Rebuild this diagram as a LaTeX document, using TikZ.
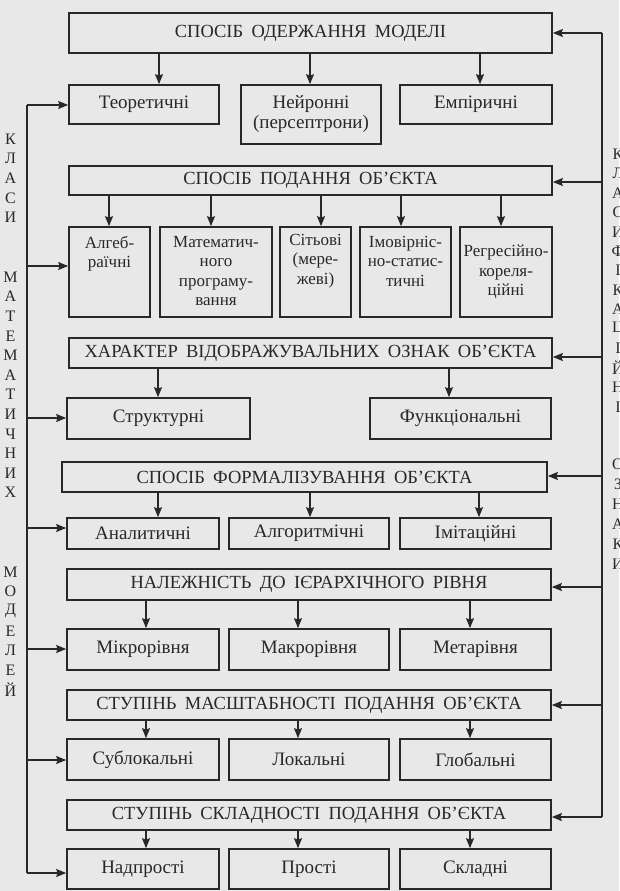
\documentclass[tikz,border=0pt]{standalone}
\usepackage{fontspec}
\setmainfont{Liberation Serif}
\newfontfamily\hdfont[WordSpace=1.8]{Liberation Serif}
\usetikzlibrary{arrows.meta}
\definecolor{bgc}{RGB}{232,232,232}
\definecolor{ink}{RGB}{40,40,40}
\newcommand\mkbox[7][bx]{\node[#1, minimum width={(#5)-(#3)}, minimum height={(#6)-(#4)}] (#2) at ({((#3)+(#5))/2},{((#4)+(#6))/2}) {#7};}
\newcommand\toptxt[4][9]{\parbox[c][#2pt][t]{#3pt}{\centering\fontsize{17}{19.5}\selectfont\vspace*{#1pt}#4\par}}
\begin{document}
\begin{tikzpicture}[x=1pt,y=-1pt,
  bx/.style={draw=ink, text=ink, line width=1.7pt, inner sep=0pt, align=center,
    font=\fontsize{19}{20}\selectfont},
  hd/.style={bx, font=\hdfont\fontsize{18.5}{20}\selectfont},
  arr/.style={draw=ink, line width=1.4pt, -{Stealth[length=10pt,width=8pt,inset=1.5pt]}},
  ln/.style={draw=ink, line width=1.4pt},
  lt/.style={text=ink, font=\fontsize{16}{16}\selectfont, inner sep=0pt}]
\fill[bgc] (0,0) rectangle (619,891);
\useasboundingbox (0,0) rectangle (619,891);

% level 1
\mkbox[hd]{H1}{69}{13}{552}{53}{СПОСІБ ОДЕРЖАННЯ МОДЕЛІ}
\mkbox{t1}{69}{85}{219}{124}{Теоретичні}
\mkbox{n1}{241}{85}{381}{144}{Нейронні\\(персептрони)}
\mkbox{e1}{400}{85}{552}{124}{Емпіричні}
% level 2
\mkbox[hd]{H2}{69}{166}{552}{195}{СПОСІБ ПОДАННЯ ОБ’ЄКТА}
\mkbox{a2}{69}{227}{150}{317}{\toptxt{90}{81}{Алгеб-\\раїчні}}
\mkbox{m2}{160}{227}{272}{317}{\toptxt{90}{112}{Математич-\\ного\\програму-\\вання}}
\mkbox{s2}{280}{227}{351}{317}{\toptxt[7]{90}{71}{Сітьові\\(мере-\\жеві)}}
\mkbox{i2}{360}{227}{451}{317}{\toptxt{90}{91}{Імовірніс-\\но-статис-\\тичні}}
\mkbox{r2}{460}{227}{552}{317}{\toptxt[18]{90}{92}{Регресійно-\\кореля-\\ційні}}
% level 3
\mkbox[hd]{H3}{69}{338}{552}{368}{ХАРАКТЕР ВІДОБРАЖУВАЛЬНИХ ОЗНАК ОБ’ЄКТА}
\mkbox{st}{67}{398}{250}{439}{Структурні}
\mkbox{fu}{370}{398}{551}{439}{Функціональні}
% level 4
\mkbox[hd]{H4}{62}{462}{547}{492}{СПОСІБ ФОРМАЛІЗУВАННЯ ОБ’ЄКТА}
\mkbox{an}{67}{518}{219}{549}{Аналитичні}
\mkbox{al}{229}{518}{389}{549}{Алгоритмічні}
\mkbox{im}{400}{518}{551}{549}{Імітаційні}
% level 5
\mkbox[hd]{H5}{67}{569}{551}{600}{НАЛЕЖНІСТЬ ДО ІЄРАРХІЧНОГО РІВНЯ}
\mkbox{mi}{67}{629}{219}{670}{Мікрорівня}
\mkbox{ma}{229}{629}{389}{670}{Макрорівня}
\mkbox{me}{400}{629}{551}{670}{Метарівня}
% level 6
\mkbox[hd]{H6}{67}{690}{551}{720}{СТУПІНЬ МАСШТАБНОСТІ ПОДАННЯ ОБ’ЄКТА}
\mkbox{sb}{67}{739}{219}{780}{Сублокальні}
\mkbox{lo}{229}{739}{389}{780}{Локальні}
\mkbox{gl}{400}{739}{551}{780}{Глобальні}
% level 7
\mkbox[hd]{H7}{67}{800}{551}{830}{СТУПІНЬ СКЛАДНОСТІ ПОДАННЯ ОБ’ЄКТА}
\mkbox{np}{67}{849}{219}{889}{Надпрості}
\mkbox{pr}{229}{849}{389}{889}{Прості}
\mkbox{sk}{400}{849}{551}{889}{Складні}

% down arrows
\foreach \x/\h/\c in {159/H1/t1, 310/H1/n1, 480/H1/e1,
  109/H2/a2, 211/H2/m2, 321/H2/s2, 401/H2/i2, 501/H2/r2,
  158/H3/st, 449/H3/fu,
  158/H4/an, 310/H4/al, 479/H4/im,
  146/H5/mi, 298/H5/ma, 470/H5/me,
  146/H6/sb, 298/H6/lo, 470/H6/gl,
  146/H7/np, 298/H7/pr, 470/H7/sk}{
  \coordinate (dx) at (\x,0);
  \draw[arr] (dx |- \h.south) -- (dx |- \c.north);
}

% left bus
\foreach \n/\y in {1/105, 2/266, 3/418, 4/528, 5/649, 6/760, 7/873}{
  \coordinate (L\n) at (27,\y);
}
\draw[ln] (L1) -- (L7);
\foreach \n/\b in {1/t1, 2/a2, 3/st, 4/an, 5/mi, 6/sb, 7/np}{
  \draw[arr] (L\n) -- (\b.west |- L\n);
}

% right bus
\foreach \n/\y in {1/33, 2/182, 3/357, 4/476, 5/587, 6/705, 7/817}{
  \coordinate (R\n) at (602,\y);
}
\draw[ln] (R1) -- (R7);
\foreach \n in {1,...,7}{
  \draw[arr] (R\n) -- (H\n.east |- R\n);
}

% left vertical label
\foreach \ch [count=\i from 0] in {К,Л,А,С,И}{
  \node[lt] (lk\i) at (10.5,{139+19.6*\i}) {\ch};
}
\foreach \ch [count=\i from 0] in {М,А,Т,Е,М,А,Т,И,Ч,Н,И,Х}{
  \node[lt] (lm\i) at (10.5,{277+19.6*\i}) {\ch};
}
\foreach \ch [count=\i from 0] in {М,О,Д,Е,Л,Е,Й}{
  \node[lt] (lo\i) at (10.5,{572+19.7*\i}) {\ch};
}
% right vertical label (cut off by the page edge)
\foreach \ch [count=\i from 0] in {К,Л,А,С,И,Ф,І,К,А,Ц,І,Й,Н,І}{
  \node[lt] (rk\i) at (618,{154+19.45*\i}) {\ch};
}
\foreach \ch [count=\i from 0] in {О,З,Н,А,К,И}{
  \node[lt] (ro\i) at (618,{464+20*\i}) {\ch};
}
\end{tikzpicture}
\end{document}
